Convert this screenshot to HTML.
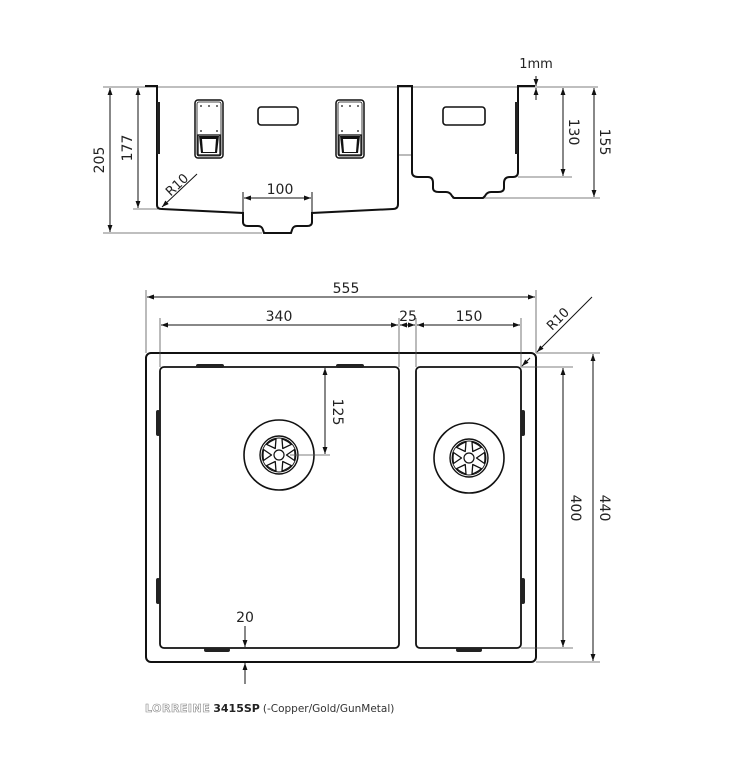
<!DOCTYPE html>
<html><head><style>
html,body{margin:0;padding:0;background:#fff;}
svg{display:block;}
text{font-family:"DejaVu Sans","Liberation Sans",sans-serif;fill:#222;}
</style></head><body>
<svg width="750" height="761" viewBox="0 0 750 761" xmlns="http://www.w3.org/2000/svg">
<defs>
<marker id="a" viewBox="0 0 10 10" refX="10" refY="5" markerWidth="7" markerHeight="7" orient="auto-start-reverse"><path d="M0,1.5 L10,5 L0,8.5 z" fill="#111"/></marker>
<g id="brk">
<rect x="0" y="0" width="28" height="58" rx="3" fill="none" stroke="#111" stroke-width="1.5"/>
<rect x="2" y="2" width="24" height="54" rx="2" fill="none" stroke="#111" stroke-width="0.8"/>
<circle cx="6" cy="6" r="0.9" fill="#111"/><circle cx="14" cy="6" r="0.9" fill="#111"/><circle cx="22" cy="6" r="0.9" fill="#111"/>
<circle cx="6" cy="31" r="0.9" fill="#111"/><circle cx="22" cy="31" r="0.9" fill="#111"/>
<rect x="3" y="35" width="22" height="20" fill="none" stroke="#111" stroke-width="1.3"/>
<path d="M4,36 L24,36 L22,53 L6,53 Z" fill="#111"/>
<path d="M7,39 L21,39 L20,52 L8,52 Z" fill="#fff"/>
</g>
<g id="tri"><path d="M7.5,0 L15.5,-5.5 Q16.5,0 15.5,5.5 Z" stroke-linejoin="round"/></g>
<g id="drain">
<circle r="35" fill="none" stroke="#111" stroke-width="1.6"/>
<circle r="19" fill="none" stroke="#111" stroke-width="1.4"/>
<circle r="17" fill="none" stroke="#111" stroke-width="0.9"/>
<circle r="5" fill="none" stroke="#111" stroke-width="1.2"/>
<g fill="none" stroke="#111" stroke-width="1.3">
<use href="#tri"/>
<use href="#tri" transform="rotate(60)"/>
<use href="#tri" transform="rotate(120)"/>
<use href="#tri" transform="rotate(180)"/>
<use href="#tri" transform="rotate(240)"/>
<use href="#tri" transform="rotate(300)"/>
</g>
</g>
</defs>

<g stroke="#555" stroke-width="0.8" fill="none">
<line x1="103" y1="87" x2="598" y2="87"/>
<line x1="103" y1="233" x2="262" y2="233"/>
<line x1="133" y1="209" x2="160" y2="209"/>
<line x1="398" y1="155" x2="412" y2="155"/>
<line x1="452" y1="198" x2="600" y2="198"/>
<line x1="518" y1="177" x2="572" y2="177"/>
</g>
<path d="M145,86 L157,86 L157,205 Q157,209 162,209 L243,213 L243,222 Q243,226 248,226 L258,226 Q262,226 263,230 L264,233 L291,233 L292,230 Q293,226 297,226 L307,226 Q312,226 312,222 L312,213 L393,209 Q398,209 398,204 L398,86 L412,86 L412,172 Q412,177 418,177 L428,177 Q433,177 433,183 L433,188 Q433,192 439,192 L446,192 Q450,192 452,196 L454,198 L483,198 L485,196 Q487,192 491,192 L498,192 Q504,192 504,188 L504,183 Q504,177 510,177 L513,177 Q518,177 518,172 L518,86 L535,86" fill="none" stroke="#111" stroke-width="2"/>
<rect x="157" y="102" width="3" height="52" fill="#222"/>
<rect x="515" y="102" width="3" height="52" fill="#222"/>
<use href="#brk" x="195" y="100"/>
<use href="#brk" x="336" y="100"/>
<rect x="258" y="107" width="40" height="18" rx="3" fill="none" stroke="#111" stroke-width="1.6"/>
<rect x="443" y="107" width="42" height="18" rx="3" fill="none" stroke="#111" stroke-width="1.6"/>
<g stroke="#111" stroke-width="1" fill="none">
<line x1="110" y1="88" x2="110" y2="232" marker-start="url(#a)" marker-end="url(#a)"/>
<line x1="138" y1="88" x2="138" y2="208" marker-start="url(#a)" marker-end="url(#a)"/>
<line x1="594" y1="88" x2="594" y2="197" marker-start="url(#a)" marker-end="url(#a)"/>
<line x1="563" y1="88" x2="563" y2="176" marker-start="url(#a)" marker-end="url(#a)"/>
<line x1="244" y1="198" x2="311" y2="198" marker-start="url(#a)" marker-end="url(#a)"/>
<line x1="243" y1="192" x2="243" y2="212"/><line x1="312" y1="192" x2="312" y2="212"/>
<line x1="536" y1="76" x2="536" y2="86" marker-end="url(#a)"/>
<line x1="536" y1="100" x2="536" y2="88" marker-end="url(#a)"/>
<line x1="197" y1="174" x2="162" y2="207" marker-end="url(#a)"/>
</g>
<text x="104" y="160" font-size="14" text-anchor="middle" transform="rotate(-90 104 160)">205</text>
<text x="132" y="148" font-size="14" text-anchor="middle" transform="rotate(-90 132 148)">177</text>
<text x="600" y="142" font-size="14" text-anchor="middle" transform="rotate(90 600 142)">155</text>
<text x="569" y="132" font-size="14" text-anchor="middle" transform="rotate(90 569 132)">130</text>
<text x="280" y="194" font-size="14" text-anchor="middle">100</text>
<text x="536" y="68" font-size="13" text-anchor="middle">1mm</text>
<text x="180" y="188" font-size="13" text-anchor="middle" transform="rotate(-43 180 188)">R10</text>

<rect x="146" y="353" width="390" height="309" rx="5" fill="none" stroke="#111" stroke-width="2"/>
<rect x="160" y="367" width="239" height="281" rx="4" fill="none" stroke="#111" stroke-width="1.8"/>
<rect x="416" y="367" width="105" height="281" rx="4" fill="none" stroke="#111" stroke-width="1.8"/>
<g fill="#222">
<rect x="196" y="364" width="28" height="4" rx="2"/>
<rect x="336" y="364" width="28" height="4" rx="2"/>
<rect x="156" y="410" width="4" height="26" rx="2"/>
<rect x="156" y="578" width="4" height="26" rx="2"/>
<rect x="521" y="410" width="4" height="26" rx="2"/>
<rect x="521" y="578" width="4" height="26" rx="2"/>
<rect x="204" y="648" width="26" height="4" rx="2"/>
<rect x="456" y="648" width="26" height="4" rx="2"/>
</g>
<use href="#drain" x="279" y="455"/>
<use href="#drain" x="469" y="458"/>
<g stroke="#555" stroke-width="0.8" fill="none">
<line x1="146" y1="290" x2="146" y2="353"/>
<line x1="536" y1="290" x2="536" y2="353"/>
<line x1="160" y1="318" x2="160" y2="367"/>
<line x1="399" y1="318" x2="399" y2="367"/>
<line x1="416" y1="318" x2="416" y2="367"/>
<line x1="521" y1="318" x2="521" y2="367"/>
<line x1="536" y1="353" x2="600" y2="353"/>
<line x1="536" y1="662" x2="600" y2="662"/>
<line x1="521" y1="367" x2="573" y2="367"/>
<line x1="521" y1="648" x2="573" y2="648"/>
<line x1="290" y1="455" x2="330" y2="455"/>
</g>
<g stroke="#111" stroke-width="1" fill="none">
<line x1="147" y1="297" x2="535" y2="297" marker-start="url(#a)" marker-end="url(#a)"/>
<line x1="161" y1="325" x2="398" y2="325" marker-start="url(#a)" marker-end="url(#a)"/>
<line x1="400" y1="325" x2="415" y2="325" marker-start="url(#a)" marker-end="url(#a)"/>
<line x1="417" y1="325" x2="520" y2="325" marker-start="url(#a)" marker-end="url(#a)"/>
<line x1="563" y1="368" x2="563" y2="647" marker-start="url(#a)" marker-end="url(#a)"/>
<line x1="593" y1="354" x2="593" y2="661" marker-start="url(#a)" marker-end="url(#a)"/>
<line x1="325" y1="368" x2="325" y2="454" marker-start="url(#a)" marker-end="url(#a)"/>
<line x1="245" y1="626" x2="245" y2="647" marker-end="url(#a)"/>
<line x1="245" y1="684" x2="245" y2="663" marker-end="url(#a)"/>
<line x1="592" y1="297" x2="537" y2="352" marker-end="url(#a)"/>
<line x1="530" y1="358" x2="522" y2="366" marker-end="url(#a)"/>
</g>
<text x="346" y="293" font-size="14" text-anchor="middle">555</text>
<text x="279" y="321" font-size="14" text-anchor="middle">340</text>
<text x="408" y="321" font-size="14" text-anchor="middle">25</text>
<text x="469" y="321" font-size="14" text-anchor="middle">150</text>
<text x="333" y="412" font-size="14" text-anchor="middle" transform="rotate(90 333 412)">125</text>
<text x="571" y="508" font-size="14" text-anchor="middle" transform="rotate(90 571 508)">400</text>
<text x="600" y="508" font-size="14" text-anchor="middle" transform="rotate(90 600 508)">440</text>
<text x="245" y="622" font-size="14" text-anchor="middle">20</text>
<text x="561" y="322" font-size="13" text-anchor="middle" transform="rotate(-45 561 322)">R10</text>

<text x="145" y="712" font-size="11"><tspan fill="#fff" stroke="#888" stroke-width="0.6" font-weight="bold" letter-spacing="0.5">LORREINE</tspan><tspan font-weight="bold" fill="#222" dx="3">3415SP</tspan><tspan fill="#333" dx="3" font-size="10.5">(-Copper/Gold/GunMetal)</tspan></text>
</svg>
</body></html>
